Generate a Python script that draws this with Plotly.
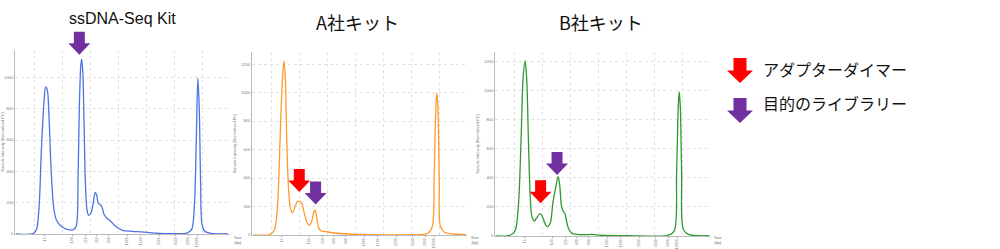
import plotly.graph_objects as go

W, H = 1000, 249

# ---------------- data (migration position: 0 = lower marker 15 bp, 100 = upper marker 10000 bp) ----
tick_pos = [0, 18, 27, 34, 42, 54, 63, 75, 86, 94, 100]
tick_labels = ["15", "100", "250", "400", "600", "1000", "1500", "2500", "3500", "5000", "10000"]

ss_x = [-18.8, -7.6, -5.4, -3.7, -2.2, -0.4, 0.6, 1.7, 2.8, 4.3, 5.8, 7.6, 10.8, 15.2, 18.8, 20.6,
        21.9, 22.7, 23.6, 24.2, 24.9, 25.8, 26.6, 27.7, 28.8, 30.3, 31.8, 33.1, 34.0, 35.1, 36.4,
        37.4, 39.0, 40.7, 43.3, 46.5, 50.9, 57.4, 63.9, 72.5, 83.3, 93.1, 96.3, 98.1, 99.4, 100.4,
        101.3, 102.2, 103.2, 105.0, 109.3, 120.0]
ss_y = [0, 2, 28, 176, 537, 855, 940, 919, 749, 388, 176, 91, 49, 28, 28, 49,
        388, 813, 1068, 1117, 1047, 707, 346, 155, 119, 134, 197, 265, 250, 197, 187,
        176, 123, 102, 81, 49, 23, 17, 13, 6, 2, 6, 28, 176, 601, 994,
        813, 346, 59, 17, 4, 2]

a_x = [-18.5, -7.6, -4.8, -2.8, -1.1, 0.4, 1.5, 2.4, 3.3, 4.4, 5.7, 7.0, 8.7, 10.2, 11.5, 13.1,
       14.8, 16.6, 18.1, 19.6, 20.9, 21.8, 22.7, 24.0, 25.7, 29.4, 34.9, 43.6, 58.8, 85.0, 95.9,
       98.7, 100.0, 101.1, 101.7, 102.4, 103.3, 104.1, 106.8, 113.3, 121.0]
a_y = [0, 5, 35, 198, 665, 1085, 1220, 1085, 665, 338, 187, 156, 198, 233, 238, 222,
       152, 86, 68, 93, 156, 175, 140, 58, 30, 23, 14, 7, 2, 2, 12,
       58, 432, 899, 997, 899, 385, 58, 19, 7, 2]

b_x = [-19.0, -9.7, -6.4, -4.2, -2.4, -1.1, 0.2, 1.3, 2.4, 3.5, 4.6, 6.2, 7.9, 10.2, 11.9, 13.5,
       15.0, 16.8, 18.5, 20.3, 21.9, 23.0, 24.1, 25.2, 26.3, 27.4, 28.9, 31.1, 36.6, 44.4, 49.9,
       67.5, 94.0, 98.0, 99.6, 100.7, 101.3, 102.0, 102.9, 104.0, 107.3, 121.0]
b_y = [0, 5, 34, 206, 665, 1078, 1204, 1078, 665, 298, 138, 103, 126, 154, 126, 80,
       64, 92, 229, 333, 408, 344, 206, 170, 156, 103, 46, 18, 9, 11, 5,
       2, 5, 34, 436, 895, 993, 895, 436, 46, 11, 2]

panel_titles = ["ssDNA-Seq Kit", "A社キット", "B社キット"]
legend_labels = ["アダプターダイマー", "目的のライブラリー"]

# annotated peaks: (panel, position, intensity, kind)  kind 0 = adapter dimer, 1 = library
arrows = [(0, 22.7, 1145, 1), (1, 11.5, 302, 0), (1, 22.2, 214, 1), (2, 10.4, 225, 0), (2, 21.2, 420, 1)]

# ---------------- style ----------------
colors = ["#4F72E3", "#FF9A2E", "#2E9A2E"]
arrow_colors = ["#FF0000", "#7030A0"]
FONT = "Liberation Sans, Arial, Noto Sans CJK JP, sans-serif"
JFONT = "Noto Sans CJK JP, Liberation Sans, sans-serif"

xr = [-19.5, 121.5]
yranges = [[0, 1175], [0, 1285], [0, 1265]]
xdom_px = [(15, 230), (252, 467), (495, 710)]
ydom_px = [(50, 234), (52, 235), (52, 236)]  # top, bottom (pixels from top)

fig = go.Figure()
series = [(ss_x, ss_y), (a_x, a_y), (b_x, b_y)]
for i, (xs, ys) in enumerate(series):
    s = "" if i == 0 else str(i + 1)
    fig.add_trace(go.Scatter(x=xs, y=ys, mode="lines", xaxis="x" + s, yaxis="y" + s,
                             line=dict(color=colors[i], width=1.3, shape="spline", smoothing=0.9),
                             hoverinfo="skip", showlegend=False))
    xd = [xdom_px[i][0] / W, xdom_px[i][1] / W]
    yd = [1 - ydom_px[i][1] / H, 1 - ydom_px[i][0] / H]
    fig.layout["xaxis" + s] = dict(
        domain=xd, range=xr, anchor="y" + s, tickmode="array", tickvals=tick_pos, ticktext=tick_labels,
        tickangle=-90, ticks="outside", ticklen=1, tickcolor="#999", tickwidth=1, automargin=False,
        tickfont=dict(size=3.5, color="#777", family=FONT), showgrid=False, zeroline=False,
        showline=True, linecolor="#bbb", linewidth=1,
        minor=dict(tickmode="linear", tick0=-6.5, dtick=18.3, showgrid=True, gridcolor="#e2e2e2",
                   griddash="dot", ticklen=0, gridwidth=1))
    fig.layout["yaxis" + s] = dict(
        domain=yd, range=yranges[i], anchor="x" + s, dtick=200, showgrid=True, gridcolor="#e2e2e2",
        griddash="dot", zeroline=False, showline=True, linecolor="#bbb", linewidth=1, automargin=False,
        ticks="", tickfont=dict(size=4, color="#777", family=FONT),
        title=dict(text="Sample Intensity [Normalized FU]", font=dict(size=4, color="#777", family=FONT),
                   standoff=4))
    fig.add_annotation(x=(xdom_px[i][1] + 2) / W, y=1 - 240 / H, xref="paper", yref="paper",
                       text="Size<br>[bp]", showarrow=False, xanchor="left", yanchor="middle",
                       font=dict(size=4, color="#777", family=FONT))

# titles
title_px = [(122, 18), (357, 22), (601, 22)]
title_sizes = [16, 18, 18]
for i, t in enumerate(panel_titles):
    fig.add_annotation(x=title_px[i][0] / W, y=1 - title_px[i][1] / H, xref="paper", yref="paper",
                       text=t, showarrow=False, xanchor="center", yanchor="middle",
                       font=dict(size=title_sizes[i], color="#111", family=JFONT if i else FONT))


def arrow_path(tx, ty, w, h):
    """block down-arrow with tip at pixel (tx, ty); returns svg path in paper fractions"""
    sw = w * 0.5
    hh = h * 0.5
    pts = [(tx, ty), (tx - w / 2, ty - hh), (tx - sw / 2, ty - hh), (tx - sw / 2, ty - h),
           (tx + sw / 2, ty - h), (tx + sw / 2, ty - hh), (tx + w / 2, ty - hh)]
    return "M " + " L ".join(f"{px / W:.5f},{1 - py / H:.5f}" for px, py in pts) + " Z"


for (p, xp, yv, k) in arrows:
    x0, x1 = xdom_px[p]
    top, bot = ydom_px[p]
    tx = x0 + (xp - xr[0]) / (xr[1] - xr[0]) * (x1 - x0)
    ty = bot - (yv - yranges[p][0]) / (yranges[p][1] - yranges[p][0]) * (bot - top)
    fig.add_shape(type="path", xref="paper", yref="paper", path=arrow_path(tx, ty, 22, 23),
                  fillcolor=arrow_colors[k], line=dict(width=0), layer="above")

# legend
leg_tips = [(740, 83), (740, 123)]
leg_text_y = [69, 103]
for k in range(2):
    fig.add_shape(type="path", xref="paper", yref="paper",
                  path=arrow_path(leg_tips[k][0], leg_tips[k][1], 26, 25),
                  fillcolor=arrow_colors[k], line=dict(width=0))
    fig.add_annotation(x=761 / W, y=1 - leg_text_y[k] / H, xref="paper", yref="paper",
                       text=legend_labels[k], showarrow=False, xanchor="left", yanchor="middle",
                       font=dict(size=16, color="#111", family=JFONT))

fig.update_layout(width=W, height=H, margin=dict(l=0, r=0, t=0, b=0),
                  paper_bgcolor="white", plot_bgcolor="white", showlegend=False)
fig.write_html("out.html")
